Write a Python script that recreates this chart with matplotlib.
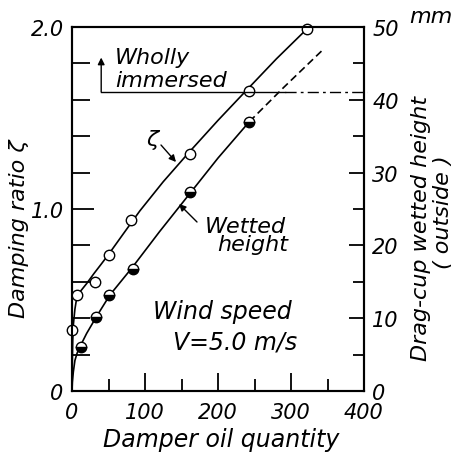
import matplotlib
matplotlib.use("Agg")
import matplotlib.pyplot as plt
from matplotlib.ticker import FixedLocator, NullFormatter

plt.rcParams['font.family'] = ['DejaVu Sans']
plt.rcParams['font.style'] = 'italic'

# ---------------- data ----------------
# damping ratio zeta (open circles), x = damper oil quantity
zeta_x = [0, 7, 32, 50, 81, 161, 242, 322]
zeta_y = [0.335, 0.53, 0.60, 0.75, 0.94, 1.30, 1.65, 1.99]
# faired curve through zeta
zeta_curve_x = [0, 0.4, 1, 2, 4, 6, 9, 15, 20, 30, 40, 50, 70, 93, 125, 160, 200, 242, 280, 322]
zeta_curve_y = [0, 0.15, 0.28, 0.37, 0.45, 0.50, 0.535, 0.565, 0.59, 0.645, 0.697, 0.75,
                0.862, 0.99, 1.15, 1.31, 1.487, 1.665, 1.825, 1.99]

# drag-cup wetted height (half filled circles), mm
wet_x = [12, 33, 50, 83, 162, 243]
wet_y = [6.1, 10.1, 13.2, 16.7, 27.3, 37.0]
wet_curve_x = [0, 0.5, 1.8, 4, 7, 11, 20, 34, 52, 82, 120, 162, 200, 243]
wet_curve_y = [0, 1.2, 2.6, 4.2, 5.2, 6.1, 7.9, 10.3, 13.2, 16.9, 21.9, 27.2, 32.0, 37.0]
wet_dash_x = [243, 290, 345]
wet_dash_y = [37.0, 41.7, 47.0]

immersed_level = 41.1   # mm
immersed_x0 = 40
x_ticks_major = [0, 100, 200, 300, 400]
x_ticks_minor = [50, 150, 250, 350]
y_ticks_major = [0, 1.0, 2.0]
y_tick_labels = ['0', '1.0', '2.0']
y_ticks_minor = [0.2, 0.4, 0.6, 0.8, 1.2, 1.4, 1.6, 1.8]
r_ticks_major = [0, 10, 20, 30, 40, 50]
r_ticks_minor = [5, 15, 25, 35, 45]

W, H = 459, 456
def fx(p): return p / W
def fy(p): return 1 - p / H

fig = plt.figure(figsize=(W / 100, H / 100), dpi=100)
ax = fig.add_axes([fx(72), fy(392), (364 - 72) / W, (392 - 28) / H])
ax2 = ax.twinx()

ax.set_xlim(0, 400)
ax.set_ylim(0, 2.0)
ax2.set_ylim(0, 50)

fs = 15
lw_sp = 1.5
for a in (ax, ax2):
    for s in a.spines.values():
        s.set_linewidth(lw_sp)

ax.xaxis.set_major_locator(FixedLocator(x_ticks_major))
ax.xaxis.set_minor_locator(FixedLocator(x_ticks_minor))
ax.set_xticklabels([str(v) for v in x_ticks_major])
ax.yaxis.set_major_locator(FixedLocator(y_ticks_major))
ax.yaxis.set_minor_locator(FixedLocator(y_ticks_minor))
ax.set_yticklabels(y_tick_labels)
ax.tick_params(axis='x', which='major', direction='in', length=13, width=1.3, pad=8, labelsize=fs)
ax.tick_params(axis='x', which='minor', direction='in', length=9, width=1.3)
ax.tick_params(axis='y', which='major', direction='in', length=16, width=1.3, pad=6, labelsize=fs)
ax.tick_params(axis='y', which='minor', direction='in', length=13, width=1.3)

ax2.yaxis.set_major_locator(FixedLocator(r_ticks_major))
ax2.yaxis.set_minor_locator(FixedLocator(r_ticks_minor))
ax2.yaxis.set_minor_formatter(NullFormatter())
ax2.set_yticklabels([str(v) for v in r_ticks_major])
ax2.tick_params(axis='y', which='major', direction='in', length=11, width=1.3, pad=6, labelsize=fs)
ax2.tick_params(axis='y', which='minor', direction='in', length=8, width=1.3)

# curves
ax.plot(zeta_curve_x, zeta_curve_y, color='black', lw=1.2, zorder=3)
ax2.plot(wet_curve_x, wet_curve_y, color='black', lw=1.2, zorder=3)
ax2.plot(wet_dash_x, wet_dash_y, color='black', lw=1.2, ls=(0, (4.5, 2.5)), zorder=3)

# markers
ax.plot(zeta_x, zeta_y, 'o', ms=7.5, mfc='white', mec='black', mew=1.0,
        clip_on=False, zorder=5)
ax2.plot(wet_x, wet_y, 'o', ms=7.5, mfc='black', mfcalt='white', fillstyle='bottom',
         mec='black', mew=1.0, clip_on=False, zorder=5)

# wholly immersed line
ax2.plot([immersed_x0, 292], [immersed_level, immersed_level], color='black', lw=1.0,
         clip_on=False)
ax2.plot([292, 404], [immersed_level, immersed_level], color='black', lw=1.0,
         ls=(0, (8, 3, 2, 3)), clip_on=False)
ax2.annotate('', xy=(immersed_x0, 45.8), xytext=(immersed_x0, immersed_level),
             arrowprops=dict(arrowstyle='-|>', color='black', lw=1.0,
                             mutation_scale=10, shrinkA=0, shrinkB=0))

# texts
tfs = 16
fig.text(fx(115), fy(64), 'Wholly', fontsize=tfs, va='baseline', ha='left')
fig.text(fx(115), fy(87), 'immersed', fontsize=tfs, va='baseline', ha='left')
fig.text(fx(152), fy(140), 'ζ', fontsize=tfs, va='center', ha='center')
fig.text(fx(205), fy(233), 'Wetted', fontsize=tfs, va='baseline', ha='left')
fig.text(fx(217), fy(251), 'height', fontsize=tfs, va='baseline', ha='left')
fig.text(fx(153), fy(319), 'Wind speed', fontsize=tfs + 1, va='baseline', ha='left')
fig.text(fx(173), fy(350), 'V=5.0 m/s', fontsize=tfs + 1, va='baseline', ha='left')

fig.text(fx(19), fy(229), 'Damping ratio ζ', fontsize=tfs, rotation=90,
         va='center', ha='center')
fig.text(fx(421), fy(228), 'Drag-cup wetted height', fontsize=tfs, rotation=90,
         va='center', ha='center')
fig.text(fx(443), fy(212), '( outside )', fontsize=tfs, rotation=90,
         va='center', ha='center')
fig.text(fx(221), fy(440), 'Damper oil quantity', fontsize=tfs + 1, va='center', ha='center')
fig.text(fx(431), fy(17), 'mm', fontsize=tfs, va='center', ha='center')

arrow_kw = dict(arrowstyle='-|>', color='black', lw=1.0, mutation_scale=10,
                shrinkA=0, shrinkB=0)
ax.annotate('', xy=(fx(176), fy(163)), xytext=(fx(161), fy(146)),
            xycoords='figure fraction', textcoords='figure fraction', arrowprops=arrow_kw)
ax.annotate('', xy=(fx(179), fy(205)), xytext=(fx(197), fy(223)),
            xycoords='figure fraction', textcoords='figure fraction', arrowprops=arrow_kw)

fig.savefig('out.png', dpi=100)
